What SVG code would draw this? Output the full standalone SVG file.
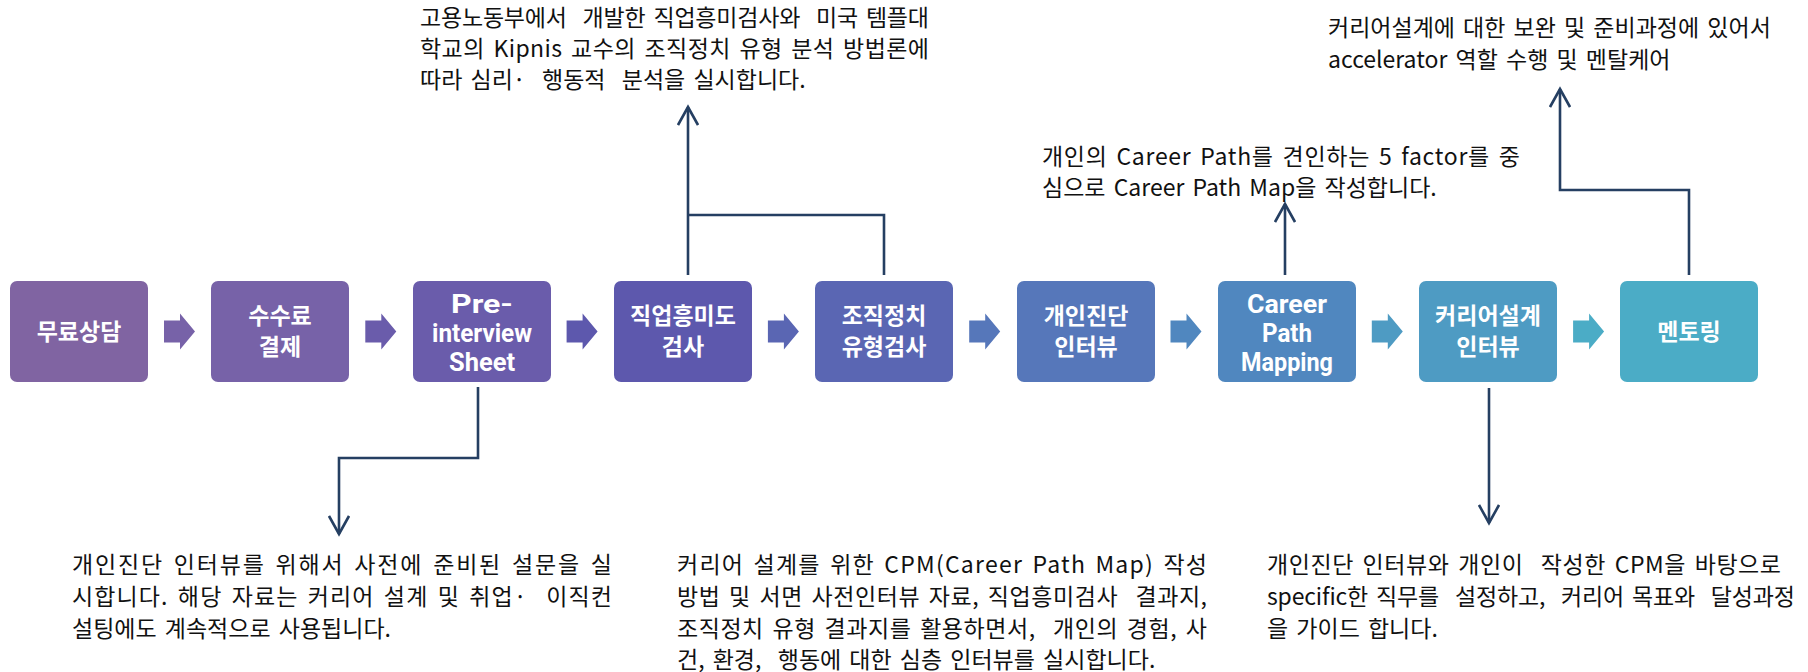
<svg xmlns="http://www.w3.org/2000/svg" width="1808" height="672" viewBox="0 0 1808 672">
<style>
.box{stroke:none}
.lk{font-family:"Noto Sans CJK KR","Noto Sans",sans-serif;font-weight:700;font-size:23px;fill:#ffffff;text-anchor:middle}
.le{font-family:Roboto,"Liberation Sans",sans-serif;font-weight:700;font-size:25.5px;fill:#ffffff;text-anchor:middle}
.d{font-family:"Noto Sans CJK KR","Noto Sans",sans-serif;font-size:23px;fill:#111111;white-space:pre;word-spacing:3px}
.c{fill:none;stroke:#253f62;stroke-width:2.6}
</style>
<defs>
<marker id="ah" viewBox="0 0 22 22" markerWidth="22" markerHeight="22" refX="19" refY="11" orient="auto" markerUnits="userSpaceOnUse">
<path d="M1,1 L19,11 L1,21" fill="none" stroke="#253f62" stroke-width="2.6"/>
</marker>
</defs>
<rect width="1808" height="672" fill="#ffffff"/>

<g id="n1"><rect class="box" x="10" y="281" width="138" height="101" rx="7" fill="#8064a2"/><text class="lk" x="79" y="340">무료상담</text></g>
<g id="n2"><rect class="box" x="211" y="281" width="138" height="101" rx="7" fill="#7762a8"/><text class="lk" x="280" y="324">수수료</text><text class="lk" x="280" y="355">결제</text></g>
<g id="n3"><rect class="box" x="413" y="281" width="138" height="101" rx="7" fill="#6a5cab"/><text class="le" x="482" y="313" textLength="62" lengthAdjust="spacingAndGlyphs">Pre-</text><text class="le" x="482" y="342" textLength="100" lengthAdjust="spacingAndGlyphs">interview</text><text class="le" x="482" y="371" textLength="66" lengthAdjust="spacingAndGlyphs">Sheet</text></g>
<g id="n4"><rect class="box" x="614" y="281" width="138" height="101" rx="7" fill="#5d58ad"/><text class="lk" x="683" y="324">직업흥미도</text><text class="lk" x="683" y="355">검사</text></g>
<g id="n5"><rect class="box" x="815" y="281" width="138" height="101" rx="7" fill="#5a66b3"/><text class="lk" x="884" y="324">조직정치</text><text class="lk" x="884" y="355">유형검사</text></g>
<g id="n6"><rect class="box" x="1017" y="281" width="138" height="101" rx="7" fill="#5677ba"/><text class="lk" x="1086" y="324">개인진단</text><text class="lk" x="1086" y="355">인터뷰</text></g>
<g id="n7"><rect class="box" x="1218" y="281" width="138" height="101" rx="7" fill="#5087bf"/><text class="le" x="1287" y="313" textLength="80" lengthAdjust="spacingAndGlyphs">Career</text><text class="le" x="1287" y="342" textLength="50" lengthAdjust="spacingAndGlyphs">Path</text><text class="le" x="1287" y="371" textLength="92" lengthAdjust="spacingAndGlyphs">Mapping</text></g>
<g id="n8"><rect class="box" x="1419" y="281" width="138" height="101" rx="7" fill="#4e9bc3"/><text class="lk" x="1488" y="324">커리어설계</text><text class="lk" x="1488" y="355">인터뷰</text></g>
<g id="n9"><rect class="box" x="1620" y="281" width="138" height="101" rx="7" fill="#4bacc6"/><text class="lk" x="1689" y="340">멘토링</text></g>

<g id="flow-arrows">
<path d="M164,320.5 h16 v-7 l15,18 l-15,18 v-7 h-16 z" fill="#7762a8"/>
<path d="M365.3,320.5 h16 v-7 l15,18 l-15,18 v-7 h-16 z" fill="#6a5cab"/>
<path d="M566.6,320.5 h16 v-7 l15,18 l-15,18 v-7 h-16 z" fill="#5d58ad"/>
<path d="M767.9,320.5 h16 v-7 l15,18 l-15,18 v-7 h-16 z" fill="#5a66b3"/>
<path d="M969.2,320.5 h16 v-7 l15,18 l-15,18 v-7 h-16 z" fill="#5677ba"/>
<path d="M1170.5,320.5 h16 v-7 l15,18 l-15,18 v-7 h-16 z" fill="#5087bf"/>
<path d="M1371.8,320.5 h16 v-7 l15,18 l-15,18 v-7 h-16 z" fill="#4e9bc3"/>
<path d="M1573.1,320.5 h16 v-7 l15,18 l-15,18 v-7 h-16 z" fill="#4bacc6"/>
</g>

<g id="connectors">
<path class="c" d="M478,387 V458 H339 V534" marker-end="url(#ah)"/>
<path class="c" d="M688,275 V107" marker-end="url(#ah)"/>
<path class="c" d="M688,215 H884 V275"/>
<path class="c" d="M1285,275 V204" marker-end="url(#ah)"/>
<path class="c" d="M1689,275 V190 H1560 V89" marker-end="url(#ah)"/>
<path class="c" d="M1489,388 V523" marker-end="url(#ah)"/>
</g>

<g id="t1">
<text class="d" x="420" y="26" textLength="509" lengthAdjust="spacing">고용노동부에서  개발한 직업흥미검사와  미국 템플대</text>
<text class="d" x="420" y="57" textLength="509" lengthAdjust="spacing">학교의 Kipnis 교수의 조직정치 유형 분석 방법론에</text>
<text class="d" x="420" y="88">따라 심리·  행동적  분석을 실시합니다.</text>
</g>
<g id="t2">
<text class="d" x="1328" y="36">커리어설계에 대한 보완 및 준비과정에 있어서</text>
<text class="d" x="1328" y="68">accelerator 역할 수행 및 멘탈케어</text>
</g>
<g id="t3">
<text class="d" x="1042" y="165" textLength="478" lengthAdjust="spacing">개인의 Career Path를 견인하는 5 factor를 중</text>
<text class="d" x="1042" y="196">심으로 Career Path Map을 작성합니다.</text>
</g>
<g id="t4">
<text class="d" x="72" y="573" textLength="540" lengthAdjust="spacing">개인진단 인터뷰를 위해서 사전에 준비된 설문을 실</text>
<text class="d" x="72" y="605" textLength="540" lengthAdjust="spacing">시합니다. 해당 자료는 커리어 설계 및 취업·  이직컨</text>
<text class="d" x="72" y="637">설팅에도 계속적으로 사용됩니다.</text>
</g>
<g id="t5">
<text class="d" x="677" y="573" textLength="530" lengthAdjust="spacing">커리어 설계를 위한 CPM(Career Path Map) 작성</text>
<text class="d" x="677" y="605" textLength="530" lengthAdjust="spacing">방법 및 서면 사전인터뷰 자료, 직업흥미검사  결과지,</text>
<text class="d" x="677" y="637" textLength="530" lengthAdjust="spacing">조직정치 유형 결과지를 활용하면서,  개인의 경험, 사</text>
<text class="d" x="677" y="668">건, 환경,  행동에 대한 심층 인터뷰를 실시합니다.</text>
</g>
<g id="t6">
<text class="d" x="1267" y="573" textLength="514" lengthAdjust="spacing">개인진단 인터뷰와 개인이  작성한 CPM을 바탕으로</text>
<text class="d" x="1267" y="605" textLength="528" lengthAdjust="spacing">specific한 직무를  설정하고,  커리어 목표와  달성과정</text>
<text class="d" x="1267" y="637">을 가이드 합니다.</text>
</g>
</svg>
